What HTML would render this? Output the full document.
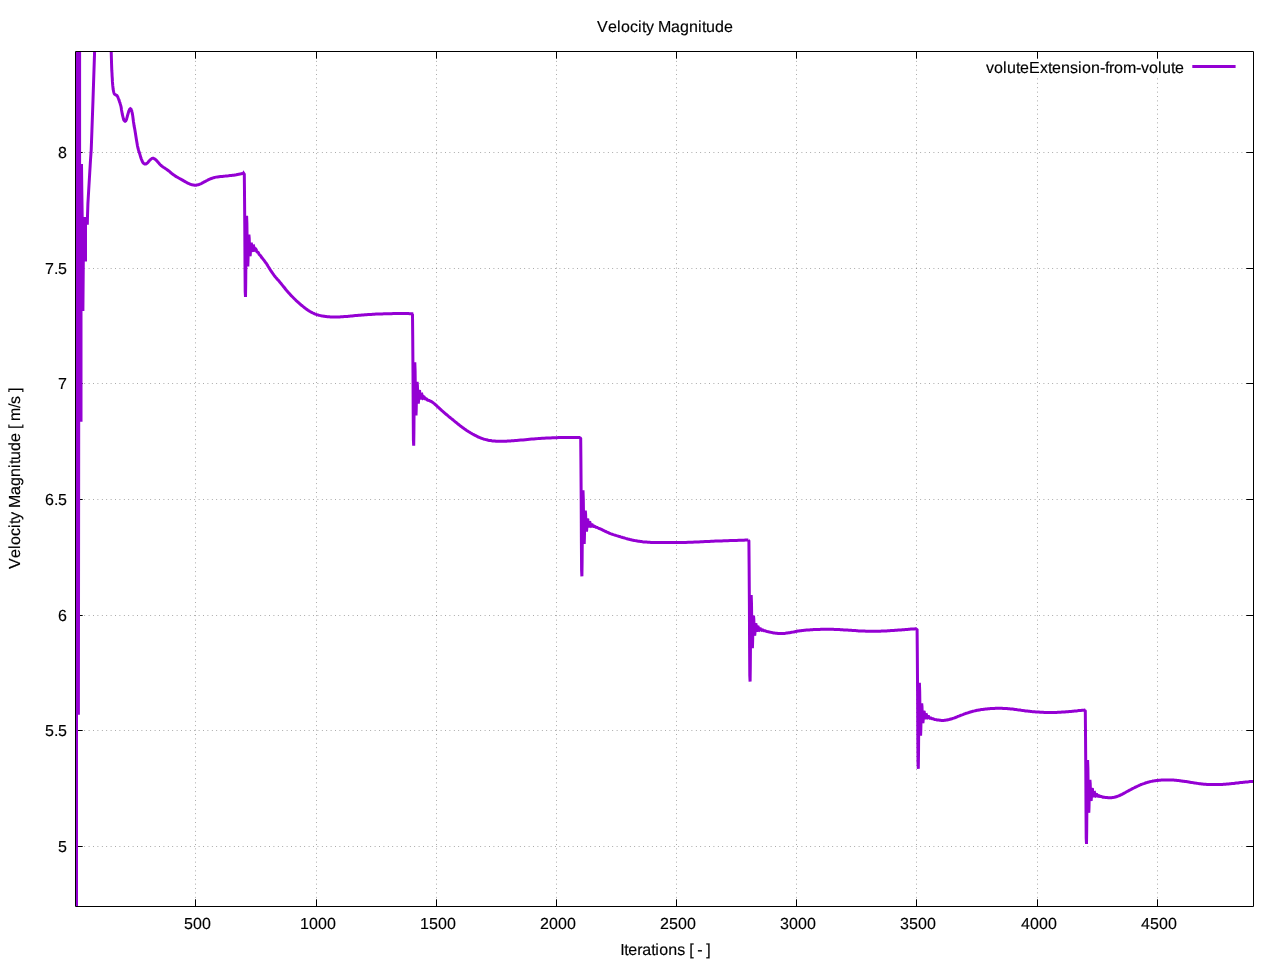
<!DOCTYPE html>
<html><head><meta charset="utf-8"><title>Velocity Magnitude</title>
<style>
html,body{margin:0;padding:0;background:#fff}
body{width:1280px;height:960px;overflow:hidden;font-family:"Liberation Sans",sans-serif;font-size:16px}
svg{display:block;will-change:transform;font-family:"Liberation Sans",sans-serif;font-kerning:none;text-rendering:geometricPrecision}
</style></head><body>
<svg width="1280" height="960" viewBox="0 0 1280 960"><path d="M195.5 906.5V51.5M316.5 906.5V51.5M436.5 906.5V51.5M556.5 906.5V51.5M676.5 906.5V51.5M796.5 906.5V51.5M916.5 906.5V51.5M1037.5 906.5V51.5M1157.5 906.5V51.5M75.5 846.5H1253.5M75.5 730.5H1253.5M75.5 615.5H1253.5M75.5 499.5H1253.5M75.5 383.5H1253.5M75.5 268.5H1253.5M75.5 152.5H1253.5" stroke="#000" stroke-width="0.42" stroke-dasharray="0.8 3.6" fill="none"/><path d="M195.5 906.5v-7.2M195.5 51.5v7.2M316.5 906.5v-7.2M316.5 51.5v7.2M436.5 906.5v-7.2M436.5 51.5v7.2M556.5 906.5v-7.2M556.5 51.5v7.2M676.5 906.5v-7.2M676.5 51.5v7.2M796.5 906.5v-7.2M796.5 51.5v7.2M916.5 906.5v-7.2M916.5 51.5v7.2M1037.5 906.5v-7.2M1037.5 51.5v7.2M1157.5 906.5v-7.2M1157.5 51.5v7.2M75.5 846.5h7.2M1253.5 846.5h-7.2M75.5 730.5h7.2M1253.5 730.5h-7.2M75.5 615.5h7.2M1253.5 615.5h-7.2M75.5 499.5h7.2M1253.5 499.5h-7.2M75.5 383.5h7.2M1253.5 383.5h-7.2M75.5 268.5h7.2M1253.5 268.5h-7.2M75.5 152.5h7.2M1253.5 152.5h-7.2" stroke="#000" stroke-width="1" fill="none"/><clipPath id="c"><rect x="76" y="52" width="1177.5" height="854.5"/></clipPath><g clip-path="url(#c)"><path d="M75.5 51.5L81.1 51.5L81.1 164.0L83.0 164.0L83.3 190.0L83.7 216.9L87.0 216.9L87.0 261.6L84.8 261.6L84.4 310.9L82.5 310.9L82.5 421.7L80.2 421.7L79.9 714.8L78.0 714.8L78.0 906.5L75.5 906.5Z" fill="#9400d3"/><path d="M87.3 224.7L87.5 216.0L87.9 203.8L88.7 190.0L89.6 175.0L90.5 160.0L91.2 150.0L91.9 131.0L93.0 100.0L94.6 51.5L94.9 41.0M111.0 41.0L111.0 42.8L111.1 45.4L111.2 48.4L111.2 51.5L111.3 54.7L111.4 58.2L111.5 61.7L111.6 65.0L111.7 67.9L111.8 70.7L112.0 73.4L112.1 76.0L112.3 78.7L112.4 81.4L112.6 83.9L112.8 86.0L113.0 87.7L113.1 89.0L113.3 90.0L113.5 91.0L113.7 91.9L113.9 92.7L114.1 93.3L114.3 93.8L114.6 94.2L114.9 94.4L115.2 94.6L115.5 94.8L115.8 95.0L116.2 95.1L116.5 95.3L116.8 95.5L117.1 95.8L117.3 96.1L117.6 96.5L117.8 97.0L118.0 97.5L118.3 98.2L118.5 98.8L118.8 99.5L119.0 100.2L119.3 100.9L119.5 101.7L119.8 102.5L120.1 103.3L120.3 104.2L120.6 105.1L120.9 106.2L121.2 107.6L121.4 109.2L121.7 110.9L122.0 112.5L122.3 114.2L122.7 115.9L123.1 117.5L123.4 118.8L123.7 119.6L123.9 120.1L124.2 120.4L124.4 120.7L124.6 121.0L124.9 121.2L125.1 121.3L125.3 121.2L125.5 121.1L125.8 120.8L126.0 120.4L126.3 119.8L126.6 119.0L126.9 117.9L127.2 116.8L127.5 115.6L127.9 114.3L128.3 112.9L128.7 111.6L129.1 110.6L129.3 110.0L129.5 109.6L129.7 109.3L129.9 109.1L130.1 108.9L130.3 108.8L130.4 108.7L130.6 108.8L130.8 108.9L131.0 109.1L131.2 109.4L131.4 110.0L131.7 110.8L131.9 111.7L132.2 112.9L132.5 114.4L132.8 116.4L133.1 118.8L133.4 121.3L133.8 123.8L134.1 125.9L134.5 127.9L134.9 130.0L135.3 132.5L135.8 135.7L136.4 139.4L137.0 143.0L137.5 146.0L138.0 148.1L138.4 149.7L138.8 151.0L139.3 152.5L139.8 154.2L140.3 155.9L140.8 157.6L141.3 159.0L141.8 160.2L142.2 161.2L142.6 162.1L143.1 162.8L143.6 163.4L144.2 163.7L144.7 164.0L145.3 164.1L145.8 164.0L146.4 163.7L146.9 163.3L147.5 162.8L148.1 162.2L148.7 161.4L149.3 160.7L150.0 160.0L150.7 159.4L151.4 158.9L152.1 158.4L152.8 158.2L153.5 158.3L154.2 158.7L154.9 159.1L155.6 159.7L156.4 160.4L157.2 161.3L158.0 162.2L158.8 163.1L159.5 163.9L160.3 164.8L161.1 165.5L161.9 166.2L162.7 166.8L163.4 167.3L164.2 167.7L165.0 168.2L165.9 168.9L166.8 169.5L167.8 170.2L168.8 170.9L169.7 171.7L170.6 172.5L171.6 173.3L172.5 174.1L173.4 174.7L174.3 175.3L175.2 175.9L176.2 176.6L177.4 177.2L178.7 178.0L180.0 178.7L181.2 179.4L182.5 180.1L183.8 180.9L185.1 181.6L186.2 182.2L187.3 182.8L188.3 183.3L189.2 183.7L190.0 184.1L190.7 184.4L191.3 184.6L191.9 184.7L192.5 184.9L193.1 185.0L193.8 185.1L194.4 185.2L195.0 185.2L195.6 185.2L196.2 185.2L196.8 185.0L197.5 184.9L198.2 184.7L199.0 184.5L199.8 184.2L200.6 183.9L201.4 183.5L202.1 183.1L202.9 182.7L203.8 182.2L204.8 181.7L205.8 181.1L207.0 180.5L208.1 179.9L209.2 179.4L210.3 178.9L211.4 178.5L212.5 178.1L213.7 177.7L214.9 177.4L216.1 177.1L217.5 176.9L219.0 176.7L220.5 176.5L222.2 176.4L223.8 176.2L225.3 176.1L227.0 175.9L228.5 175.8L230.0 175.6L231.3 175.5L232.6 175.3L233.8 175.2L235.0 175.0L236.3 174.8L237.5 174.5L238.8 174.3L240.0 174.1L241.2 173.8L242.5 173.6L243.5 173.4L243.6 173.2L244.3 174.2L244.5 192.8L244.8 229.3L245.0 266.7L245.2 291.6L245.5 297.0L245.7 284.0L245.9 260.3L246.2 235.8L246.4 219.5L246.6 215.7L246.9 223.6L247.1 238.5L247.3 253.8L247.5 264.1L247.8 266.4L248.0 261.3L248.2 251.9L248.5 242.2L248.7 235.9L248.9 234.6L249.2 238.1L249.4 244.4L249.6 250.9L249.9 255.2L250.1 256.2L250.3 254.1L250.6 250.2L250.8 246.1L251.0 243.4L251.3 242.8L251.5 244.2L251.7 246.7L252.0 249.3L252.2 251.1L252.4 251.5L252.7 250.6L252.9 249.0L253.1 247.4L253.3 246.3L253.6 246.1L253.8 246.7L254.0 247.8L254.3 249.0L254.5 249.9L254.7 250.2L255.0 250.1L255.2 249.6L255.4 249.2L255.7 249.0L255.9 249.2L256.1 249.7L256.4 250.3L256.6 251.0L256.8 251.6L257.1 252.0L257.3 252.1L257.5 252.1L257.8 252.2L258.0 252.3L258.2 252.5L258.5 252.9L258.7 253.4L258.9 253.9L259.1 254.3L259.4 254.6L259.6 254.8L259.8 255.0L260.1 255.2L260.3 255.4L260.5 255.7L260.8 256.0L261.0 256.4L261.2 256.8L261.5 257.1L261.7 257.5L261.8 257.5L262.5 258.4L263.2 259.3L263.9 260.2L264.6 261.1L265.3 262.1L266.0 263.0L266.7 264.0L267.4 265.1L268.0 266.2L268.7 267.3L269.4 268.4L270.1 269.5L270.8 270.6L271.5 271.6L272.2 272.7L272.9 273.7L273.6 274.6L274.3 275.6L275.0 276.5L275.7 277.4L276.5 278.3L277.2 279.1L278.0 279.9L278.6 280.6L279.2 281.3L279.6 281.8L279.9 282.2L280.2 282.5L280.4 282.8L280.8 283.2L281.2 283.8L281.9 284.6L282.7 285.6L283.6 286.7L284.5 287.8L285.4 289.0L286.2 290.0L287.1 291.0L287.9 291.9L288.8 292.9L289.6 293.8L290.4 294.7L291.2 295.6L292.1 296.5L292.9 297.3L293.8 298.2L294.6 299.0L295.4 299.8L296.2 300.6L297.1 301.4L297.9 302.1L298.8 302.9L299.6 303.6L300.4 304.3L301.2 305.0L302.1 305.7L302.9 306.4L303.8 307.1L304.6 307.8L305.4 308.4L306.2 309.1L307.1 309.6L307.9 310.2L308.8 310.7L309.6 311.3L310.4 311.7L311.2 312.2L312.1 312.6L312.9 313.0L313.8 313.4L314.6 313.8L315.4 314.1L316.2 314.4L317.1 314.7L317.9 314.9L318.8 315.2L319.6 315.4L320.4 315.6L321.2 315.8L322.1 315.9L322.9 316.1L323.7 316.2L324.5 316.3L325.3 316.5L326.2 316.6L327.2 316.7L328.2 316.8L329.3 316.8L330.4 316.9L331.4 317.0L332.5 317.0L333.5 317.0L334.6 317.0L335.6 317.0L336.7 317.0L337.7 316.9L338.8 316.9L339.8 316.9L340.9 316.8L342.0 316.7L343.1 316.7L344.1 316.6L345.0 316.6L345.8 316.5L346.4 316.5L347.0 316.4L347.6 316.4L348.4 316.3L349.4 316.2L350.7 316.1L352.1 316.0L353.8 315.8L355.4 315.6L357.1 315.5L358.8 315.3L360.3 315.2L361.9 315.0L363.4 314.9L365.0 314.8L366.5 314.7L368.1 314.6L369.7 314.5L371.2 314.4L372.8 314.3L374.4 314.2L375.9 314.1L377.5 314.1L379.1 314.0L380.6 313.9L382.2 313.9L383.8 313.8L385.3 313.8L386.9 313.8L388.5 313.7L390.0 313.7L391.6 313.7L393.1 313.6L394.7 313.6L396.2 313.6L397.8 313.6L399.5 313.6L401.1 313.6L402.7 313.6L404.2 313.6L405.6 313.6L407.0 313.6L408.3 313.6L409.6 313.7L410.8 313.7L411.8 313.7L411.8 313.8L412.5 314.8L412.7 334.8L413.0 373.7L413.2 413.5L413.4 439.9L413.7 445.7L413.9 432.4L414.1 407.8L414.4 382.6L414.6 365.8L414.8 362.2L415.1 370.7L415.3 386.3L415.5 402.4L415.7 413.0L416.0 415.4L416.2 410.1L416.4 400.2L416.7 390.0L416.9 383.3L417.1 381.8L417.4 385.3L417.6 391.6L417.8 398.1L418.1 402.5L418.3 403.5L418.5 401.4L418.8 397.4L419.0 393.4L419.2 390.7L419.5 390.2L419.7 391.6L419.9 394.2L420.2 396.9L420.4 398.7L420.6 399.2L420.9 398.4L421.1 396.9L421.3 395.3L421.5 394.3L421.8 394.2L422.0 394.9L422.2 396.1L422.5 397.2L422.7 398.1L422.9 398.4L423.2 398.2L423.4 397.6L423.6 397.1L423.9 396.8L424.1 396.9L424.3 397.3L424.6 397.8L424.8 398.4L425.0 398.8L425.3 399.0L425.5 399.0L425.7 398.9L426.0 398.8L426.2 398.8L426.4 398.9L426.7 399.1L426.9 399.4L427.1 399.7L427.3 400.0L427.6 400.1L427.8 400.2L428.0 400.2L428.3 400.2L428.5 400.2L428.7 400.3L429.0 400.4L429.2 400.6L429.4 400.8L429.7 400.9L429.9 401.0L430.3 401.0L430.9 401.3L431.5 401.6L432.1 402.0L432.7 402.4L433.3 402.9L433.9 403.4L434.6 403.9L435.2 404.5L436.0 405.1L436.8 405.9L437.5 406.6L438.4 407.4L439.2 408.1L440.0 408.9L440.8 409.6L441.6 410.4L442.5 411.1L443.3 411.8L444.2 412.6L445.0 413.3L445.8 414.0L446.7 414.7L447.5 415.4L448.3 416.1L449.2 416.8L450.0 417.5L450.8 418.2L451.7 418.9L452.5 419.5L453.3 420.2L454.2 420.9L455.0 421.6L455.8 422.2L456.7 422.9L457.5 423.6L458.3 424.3L459.2 424.9L460.0 425.6L460.8 426.2L461.7 426.9L462.5 427.5L463.3 428.1L464.2 428.7L465.0 429.2L465.8 429.8L466.7 430.4L467.5 430.9L468.3 431.5L469.2 432.0L470.0 432.5L470.8 433.0L471.7 433.5L472.5 434.0L473.3 434.4L474.2 434.9L475.0 435.3L475.8 435.7L476.7 436.2L477.5 436.6L478.3 437.0L479.2 437.3L480.0 437.7L480.8 438.0L481.7 438.3L482.5 438.6L483.3 438.9L484.2 439.2L485.0 439.4L485.8 439.6L486.7 439.8L487.5 440.0L488.3 440.2L489.2 440.4L490.0 440.5L490.8 440.6L491.7 440.8L492.5 440.9L493.3 440.9L494.2 441.0L495.0 441.1L495.8 441.2L496.7 441.2L497.5 441.2L498.3 441.3L499.2 441.3L500.0 441.3L500.8 441.3L501.7 441.3L502.5 441.3L503.3 441.3L504.2 441.3L505.0 441.2L505.8 441.2L506.7 441.2L507.5 441.1L508.3 441.0L509.2 441.0L510.0 440.9L510.7 440.9L511.4 440.8L512.0 440.8L512.8 440.8L513.7 440.7L515.0 440.6L516.6 440.5L518.6 440.3L520.8 440.1L523.1 439.9L525.3 439.7L527.5 439.5L529.6 439.3L531.7 439.1L533.8 438.9L535.8 438.7L537.9 438.6L540.0 438.4L542.1 438.3L544.2 438.2L546.2 438.0L548.3 438.0L550.4 437.9L552.5 437.8L554.6 437.7L556.7 437.7L558.8 437.6L560.8 437.6L562.9 437.5L565.0 437.5L567.2 437.5L569.5 437.4L571.8 437.4L574.0 437.4L576.0 437.4L577.5 437.4L578.6 437.4L579.4 437.4L579.9 437.4L580.2 437.5L580.5 437.5L580.0 437.5L580.7 438.5L580.9 460.1L581.2 501.2L581.4 543.0L581.6 570.5L581.9 576.3L582.1 562.3L582.3 536.8L582.6 510.9L582.8 493.8L583.0 490.2L583.3 498.9L583.5 514.8L583.7 531.0L583.9 541.6L584.2 543.9L584.4 538.5L584.6 528.6L584.9 518.6L585.1 512.1L585.3 510.7L585.6 514.1L585.8 520.2L586.0 526.5L586.3 530.6L586.5 531.5L586.7 529.5L587.0 525.7L587.2 521.8L587.4 519.3L587.7 518.8L587.9 520.2L588.1 522.6L588.4 525.1L588.6 526.7L588.8 527.1L589.1 526.4L589.3 525.0L589.5 523.6L589.7 522.7L590.0 522.6L590.2 523.3L590.4 524.3L590.7 525.3L590.9 526.0L591.1 526.2L591.4 526.0L591.6 525.6L591.8 525.1L592.1 524.8L592.3 524.8L592.5 525.1L592.8 525.5L593.0 526.0L593.2 526.3L593.5 526.5L593.7 526.5L593.9 526.3L594.2 526.2L594.4 526.1L594.6 526.2L594.9 526.4L595.1 526.6L595.3 526.9L595.5 527.0L595.8 527.2L596.0 527.2L596.2 527.2L596.5 527.2L596.7 527.3L596.9 527.4L597.2 527.5L597.4 527.6L597.6 527.8L597.9 527.9L598.1 528.0L599.2 528.5L600.3 528.9L601.4 529.4L602.4 529.9L603.2 530.3L604.0 530.7L604.7 531.0L605.2 531.3L605.8 531.5L606.4 531.8L607.0 532.1L607.7 532.4L608.3 532.7L609.0 533.0L609.7 533.3L610.4 533.6L611.2 533.9L612.2 534.2L613.2 534.6L614.2 534.9L615.3 535.2L616.4 535.6L617.5 535.9L618.5 536.2L619.6 536.5L620.6 536.9L621.7 537.2L622.7 537.5L623.8 537.8L624.8 538.1L625.8 538.4L626.9 538.7L627.9 539.0L629.0 539.2L630.0 539.5L631.0 539.7L632.1 540.0L633.1 540.2L634.2 540.4L635.2 540.6L636.2 540.8L637.3 541.0L638.3 541.2L639.4 541.3L640.4 541.5L641.5 541.6L642.5 541.8L643.5 541.9L644.6 542.0L645.6 542.0L646.7 542.1L647.7 542.2L648.8 542.2L649.8 542.3L650.8 542.4L651.9 542.4L652.9 542.4L654.0 542.5L655.0 542.5L656.0 542.5L657.1 542.5L658.1 542.6L659.2 542.6L660.2 542.6L661.2 542.6L662.3 542.6L663.3 542.6L664.4 542.6L665.4 542.6L666.5 542.6L667.5 542.6L668.5 542.6L669.6 542.6L670.6 542.6L671.7 542.6L672.7 542.6L673.8 542.6L674.7 542.5L675.6 542.5L676.5 542.5L677.5 542.5L678.6 542.5L680.0 542.5L681.7 542.4L683.7 542.4L685.9 542.4L688.1 542.3L690.3 542.3L692.5 542.2L694.6 542.1L696.7 542.0L698.8 541.9L700.8 541.8L702.9 541.7L705.0 541.6L707.1 541.5L709.2 541.4L711.2 541.3L713.3 541.2L715.4 541.1L717.5 541.1L719.6 541.0L721.7 540.9L723.8 540.8L725.8 540.7L727.9 540.7L730.0 540.6L732.2 540.5L734.4 540.5L736.6 540.4L738.8 540.3L740.8 540.2L742.5 540.2L744.0 540.2L745.3 540.1L746.5 540.1L747.5 540.1L748.3 540.1L748.2 540.1L748.9 541.1L749.1 563.5L749.4 605.6L749.6 648.1L749.8 675.8L750.1 681.6L750.3 667.3L750.5 641.5L750.8 615.5L751.0 598.5L751.2 595.0L751.5 603.7L751.7 619.5L751.9 635.5L752.1 645.9L752.4 648.1L752.6 642.7L752.8 633.1L753.1 623.3L753.3 616.9L753.5 615.6L753.8 618.9L754.0 624.9L754.2 630.9L754.5 634.8L754.7 635.6L754.9 633.7L755.2 630.0L755.4 626.4L755.6 624.0L755.9 623.6L756.1 624.9L756.3 627.1L756.6 629.4L756.8 630.9L757.0 631.3L757.3 630.6L757.5 629.2L757.7 627.9L757.9 627.1L758.2 627.0L758.4 627.5L758.6 628.4L758.9 629.3L759.1 630.0L759.3 630.2L759.6 629.9L759.8 629.5L760.0 629.1L760.3 628.8L760.5 628.8L760.7 629.1L761.0 629.5L761.2 629.9L761.4 630.1L761.7 630.3L761.9 630.2L762.1 630.1L762.4 630.0L762.6 629.9L762.8 630.0L763.1 630.1L763.3 630.3L763.5 630.5L763.7 630.7L764.0 630.8L764.2 630.8L764.4 630.8L764.7 630.8L764.9 630.8L765.1 630.8L765.4 630.9L765.6 631.0L765.8 631.1L766.1 631.2L766.3 631.3L767.2 631.5L768.3 631.7L769.4 632.0L770.4 632.2L771.2 632.4L772.0 632.6L772.6 632.7L773.1 632.8L773.7 632.9L774.3 633.0L775.0 633.1L775.9 633.2L776.9 633.3L778.0 633.4L779.1 633.5L780.2 633.5L781.2 633.6L782.3 633.5L783.3 633.5L784.4 633.4L785.4 633.3L786.5 633.1L787.5 633.0L788.5 632.8L789.6 632.7L790.6 632.5L791.7 632.3L792.7 632.1L793.8 631.9L794.8 631.7L795.8 631.5L796.9 631.3L797.9 631.1L799.0 631.0L800.0 630.8L801.0 630.7L802.1 630.5L803.1 630.4L804.2 630.3L805.2 630.2L806.2 630.1L807.3 630.0L808.3 629.9L809.4 629.9L810.4 629.8L811.5 629.8L812.5 629.7L813.5 629.6L814.6 629.6L815.6 629.5L816.7 629.5L817.7 629.4L818.8 629.4L819.8 629.4L820.8 629.3L821.9 629.3L822.9 629.3L824.0 629.3L825.0 629.2L826.0 629.2L827.1 629.2L828.1 629.2L829.2 629.2L830.2 629.2L831.2 629.2L832.3 629.3L833.3 629.3L834.4 629.4L835.4 629.4L836.5 629.4L837.5 629.5L838.5 629.6L839.5 629.6L840.5 629.7L841.6 629.8L842.6 629.8L843.8 629.9L844.9 630.0L846.2 630.0L847.5 630.1L848.8 630.2L850.1 630.2L851.2 630.3L852.4 630.4L853.4 630.5L854.5 630.6L855.5 630.6L856.5 630.7L857.5 630.8L858.5 630.9L859.6 630.9L860.6 631.0L861.7 631.0L862.7 631.1L863.8 631.1L864.8 631.1L865.8 631.2L866.9 631.2L867.9 631.2L869.0 631.2L870.0 631.2L871.0 631.3L872.1 631.3L873.1 631.3L874.2 631.3L875.2 631.3L876.2 631.2L877.3 631.2L878.3 631.2L879.4 631.2L880.4 631.2L881.5 631.1L882.5 631.1L883.5 631.1L884.6 631.0L885.6 630.9L886.7 630.9L887.7 630.8L888.8 630.8L889.8 630.7L890.8 630.6L891.9 630.5L892.9 630.5L894.0 630.4L895.0 630.3L896.0 630.2L897.1 630.2L898.1 630.1L899.2 630.0L900.2 630.0L901.2 629.9L902.3 629.8L903.3 629.7L904.4 629.7L905.4 629.6L906.5 629.5L907.5 629.4L908.6 629.3L909.7 629.2L910.8 629.1L911.9 629.0L912.9 629.0L913.8 628.9L914.5 628.9L915.2 628.8L915.8 628.8L916.3 628.8L916.8 628.8L916.4 628.8L917.1 629.8L917.3 651.8L917.6 693.5L917.8 735.5L918.0 763.0L918.3 768.8L918.5 754.6L918.7 729.1L919.0 703.2L919.2 686.4L919.4 682.8L919.7 691.5L919.9 707.2L920.1 723.1L920.3 733.4L920.6 735.6L920.8 730.3L921.0 720.7L921.3 710.9L921.5 704.6L921.7 703.3L922.0 706.6L922.2 712.5L922.4 718.5L922.7 722.4L922.9 723.2L923.1 721.2L923.4 717.6L923.6 714.0L923.8 711.6L924.1 711.1L924.3 712.4L924.5 714.6L924.8 716.9L925.0 718.4L925.2 718.8L925.5 718.1L925.7 716.8L925.9 715.5L926.1 714.7L926.4 714.6L926.6 715.2L926.8 716.1L927.1 717.0L927.3 717.7L927.5 717.9L927.8 717.7L928.0 717.3L928.2 716.8L928.5 716.6L928.7 716.6L928.9 716.9L929.2 717.3L929.4 717.7L929.6 718.0L929.9 718.2L930.1 718.1L930.3 718.0L930.6 717.9L930.8 717.9L931.0 717.9L931.3 718.1L931.5 718.3L931.7 718.5L931.9 718.7L932.2 718.8L932.4 718.8L932.6 718.8L932.9 718.8L933.1 718.8L933.3 718.9L933.6 719.0L933.8 719.1L934.0 719.2L934.3 719.3L934.5 719.4L934.8 719.4L935.6 719.6L936.4 719.7L937.2 719.9L938.0 720.0L938.8 720.1L939.7 720.2L940.5 720.3L941.3 720.4L942.2 720.4L943.0 720.4L943.8 720.4L944.6 720.3L945.5 720.2L946.3 720.1L947.1 720.0L948.0 719.8L948.9 719.6L949.9 719.3L950.9 719.0L951.9 718.7L952.8 718.4L953.8 718.1L954.6 717.8L955.5 717.5L956.3 717.1L957.1 716.8L957.9 716.4L958.8 716.1L959.6 715.8L960.4 715.5L961.2 715.2L962.1 714.9L962.9 714.6L963.8 714.2L964.6 713.9L965.4 713.6L966.2 713.3L967.1 713.1L967.9 712.8L968.8 712.5L969.6 712.2L970.4 712.0L971.2 711.8L972.1 711.5L972.9 711.3L973.8 711.1L974.6 710.9L975.4 710.7L976.2 710.5L977.1 710.3L977.9 710.2L978.8 710.0L979.6 709.9L980.4 709.7L981.2 709.6L982.1 709.5L982.9 709.4L983.8 709.2L984.6 709.2L985.4 709.1L986.2 709.0L987.1 708.9L987.9 708.8L988.8 708.8L989.6 708.7L990.4 708.6L991.2 708.6L992.1 708.5L992.9 708.4L993.8 708.4L994.6 708.4L995.4 708.3L996.2 708.3L997.1 708.3L997.9 708.3L998.8 708.3L999.6 708.3L1000.4 708.3L1001.2 708.3L1002.1 708.3L1002.9 708.4L1003.8 708.4L1004.6 708.4L1005.4 708.5L1006.2 708.6L1007.1 708.6L1007.9 708.7L1008.8 708.8L1009.6 708.8L1010.3 708.9L1011.1 709.0L1011.9 709.0L1012.8 709.1L1013.8 709.2L1014.9 709.4L1016.1 709.6L1017.4 709.8L1018.8 709.9L1020.0 710.1L1021.2 710.3L1022.4 710.4L1023.4 710.6L1024.5 710.7L1025.5 710.9L1026.5 711.0L1027.5 711.1L1028.5 711.2L1029.6 711.3L1030.6 711.4L1031.7 711.6L1032.7 711.7L1033.8 711.8L1034.8 711.8L1035.8 711.9L1036.9 712.0L1037.9 712.1L1039.0 712.1L1040.0 712.2L1041.0 712.2L1042.1 712.3L1043.1 712.3L1044.2 712.4L1045.2 712.4L1046.2 712.4L1047.3 712.4L1048.3 712.5L1049.4 712.5L1050.4 712.5L1051.5 712.5L1052.5 712.5L1053.5 712.5L1054.6 712.5L1055.6 712.4L1056.7 712.4L1057.7 712.3L1058.8 712.3L1059.8 712.2L1060.8 712.2L1061.9 712.1L1062.9 712.0L1064.0 712.0L1065.0 711.9L1066.0 711.8L1067.1 711.7L1068.1 711.7L1069.2 711.6L1070.2 711.5L1071.2 711.4L1072.3 711.3L1073.3 711.2L1074.4 711.1L1075.4 711.0L1076.5 710.9L1077.5 710.8L1078.6 710.6L1079.8 710.5L1080.9 710.4L1082.0 710.3L1083.0 710.3L1083.8 710.2L1084.3 710.2L1084.7 710.1L1084.9 710.1L1085.1 710.1L1085.2 710.1L1084.6 710.1L1085.3 711.1L1085.5 731.7L1085.8 771.3L1086.0 811.6L1086.2 838.2L1086.5 844.0L1086.7 830.4L1086.9 805.6L1087.2 780.4L1087.4 763.7L1087.6 760.1L1087.9 768.6L1088.1 784.2L1088.3 800.1L1088.5 810.5L1088.8 812.8L1089.0 807.5L1089.2 797.8L1089.5 787.9L1089.7 781.4L1089.9 780.0L1090.2 783.4L1090.4 789.5L1090.6 795.8L1090.9 800.0L1091.1 800.9L1091.3 798.9L1091.6 795.1L1091.8 791.3L1092.0 788.8L1092.3 788.3L1092.5 789.7L1092.7 792.2L1093.0 794.8L1093.2 796.5L1093.4 797.0L1093.7 796.3L1093.9 794.9L1094.1 793.5L1094.3 792.6L1094.6 792.5L1094.8 793.1L1095.0 794.1L1095.3 795.2L1095.5 795.9L1095.7 796.1L1096.0 795.9L1096.2 795.4L1096.4 794.8L1096.7 794.5L1096.9 794.5L1097.1 794.8L1097.4 795.2L1097.6 795.7L1097.8 796.0L1098.1 796.2L1098.3 796.1L1098.5 796.0L1098.8 795.8L1099.0 795.7L1099.2 795.8L1099.5 795.9L1099.7 796.1L1099.9 796.4L1100.1 796.5L1100.4 796.6L1100.6 796.6L1100.8 796.6L1101.1 796.6L1101.3 796.6L1101.5 796.6L1101.8 796.7L1102.0 796.8L1102.2 796.9L1102.5 797.0L1102.7 797.1L1102.8 797.0L1103.7 797.2L1104.5 797.3L1105.3 797.4L1106.0 797.5L1106.7 797.6L1107.3 797.6L1107.9 797.7L1108.5 797.7L1109.1 797.7L1109.8 797.7L1110.4 797.7L1111.0 797.7L1111.7 797.7L1112.3 797.6L1113.0 797.5L1113.8 797.4L1114.5 797.2L1115.3 797.0L1116.2 796.8L1117.0 796.5L1117.9 796.2L1118.8 795.9L1119.6 795.5L1120.4 795.2L1121.2 794.7L1122.1 794.3L1122.9 793.8L1123.8 793.4L1124.6 792.9L1125.4 792.5L1126.2 792.0L1127.1 791.5L1127.9 791.1L1128.8 790.6L1129.6 790.2L1130.4 789.7L1131.2 789.3L1132.1 788.8L1132.9 788.4L1133.8 788.0L1134.6 787.6L1135.4 787.2L1136.2 786.8L1137.1 786.4L1137.9 786.0L1138.8 785.6L1139.6 785.2L1140.4 784.9L1141.2 784.5L1142.1 784.2L1142.9 783.9L1143.8 783.6L1144.6 783.3L1145.4 783.0L1146.2 782.7L1147.1 782.5L1147.9 782.2L1148.8 782.0L1149.6 781.8L1150.4 781.6L1151.2 781.4L1152.1 781.2L1152.9 781.0L1153.8 780.9L1154.6 780.8L1155.4 780.7L1156.2 780.5L1157.1 780.5L1157.9 780.4L1158.8 780.3L1159.6 780.2L1160.4 780.2L1161.2 780.1L1162.1 780.1L1162.9 780.0L1163.8 780.0L1164.6 780.0L1165.4 779.9L1166.2 779.9L1167.1 779.9L1167.9 779.9L1168.8 779.9L1169.6 779.9L1170.4 779.9L1171.2 780.0L1172.1 780.0L1172.9 780.0L1173.8 780.1L1174.6 780.2L1175.4 780.2L1176.2 780.3L1177.1 780.4L1177.9 780.5L1178.8 780.6L1179.6 780.7L1180.3 780.8L1181.1 780.9L1181.9 781.0L1182.8 781.2L1183.8 781.3L1184.9 781.5L1186.1 781.6L1187.4 781.8L1188.8 782.0L1190.0 782.2L1191.2 782.4L1192.4 782.6L1193.4 782.7L1194.5 782.9L1195.5 783.1L1196.5 783.2L1197.5 783.4L1198.5 783.6L1199.6 783.7L1200.6 783.8L1201.7 784.0L1202.7 784.1L1203.8 784.2L1204.8 784.3L1205.8 784.3L1206.9 784.4L1207.9 784.4L1209.0 784.5L1210.0 784.5L1211.0 784.5L1212.1 784.5L1213.1 784.6L1214.2 784.6L1215.2 784.6L1216.2 784.6L1217.3 784.5L1218.3 784.5L1219.4 784.5L1220.4 784.5L1221.5 784.4L1222.5 784.4L1223.5 784.3L1224.6 784.3L1225.6 784.2L1226.7 784.1L1227.7 784.0L1228.8 783.9L1229.8 783.8L1230.8 783.7L1231.9 783.6L1232.9 783.5L1234.0 783.4L1235.0 783.2L1236.0 783.1L1237.1 783.0L1238.1 782.9L1239.2 782.7L1240.2 782.6L1241.2 782.5L1242.3 782.4L1243.3 782.3L1244.4 782.2L1245.4 782.1L1246.4 782.0L1247.5 781.9L1248.6 781.8L1249.9 781.6L1251.1 781.5L1252.3 781.4L1253.3 781.3L1254.0 781.2" fill="none" stroke="#9400d3" stroke-width="3" stroke-linejoin="miter" stroke-miterlimit="2" stroke-linecap="butt"/></g><rect x="982" y="59" width="260" height="17" fill="#fff"/><path d="M1192.3 66.5H1235.6" stroke="#9400d3" stroke-width="3"/><path d="M75.5 51.5H1253.5V906.5H75.5Z" stroke="#000" stroke-width="1" fill="none"/><g font-family="Liberation Sans, sans-serif" font-size="16" fill="#000" stroke="#000" stroke-width="0.15"><text x="597.0 608.0 617.0 621.0 630.0 638.0 642.0 646.0 654.0 658.0 671.0 680.0 689.0 698.0 702.0 706.0 715.0 724.0" y="32">Velocity Magnitude</text><text x="620.2 624.2 628.2 637.2 642.2 651.2 655.2 659.2 668.2 677.2 685.2 689.2 693.2 697.2 702.2 706.2" y="955">Iterations [ - ]</text><text transform="translate(20 478.5) rotate(-90)" x="-90.5 -79.5 -70.5 -66.5 -57.5 -49.5 -45.5 -41.5 -33.5 -29.5 -16.5 -7.5 1.5 10.5 14.5 18.5 27.5 36.5 45.5 49.5 53.5 57.5 70.5 74.5 82.5 86.5" y="0">Velocity Magnitude [ m/s ]</text><text x="986.0 994.0 1003.0 1007.0 1016.0 1020.0 1029.0 1040.0 1048.0 1052.0 1061.0 1070.0 1078.0 1082.0 1091.0 1100.0 1105.0 1109.0 1114.0 1123.0 1136.0 1141.0 1149.0 1158.0 1162.0 1171.0 1175.0" y="73">voluteExtension-from-volute</text><text x="184.0 193.0 202.0" y="929">500</text><text x="300.0 309.0 318.0 327.0" y="929">1000</text><text x="420.0 429.0 438.0 447.0" y="929">1500</text><text x="540.0 549.0 558.0 567.0" y="929">2000</text><text x="660.0 669.0 678.0 687.0" y="929">2500</text><text x="780.0 789.0 798.0 807.0" y="929">3000</text><text x="900.0 909.0 918.0 927.0" y="929">3500</text><text x="1021.0 1030.0 1039.0 1048.0" y="929">4000</text><text x="1141.0 1150.0 1159.0 1168.0" y="929">4500</text><text x="58.0" y="852.0">5</text><text x="45.0 54.0 58.0" y="736.0">5.5</text><text x="58.0" y="621.0">6</text><text x="45.0 54.0 58.0" y="505.0">6.5</text><text x="58.0" y="389.0">7</text><text x="45.0 54.0 58.0" y="274.0">7.5</text><text x="58.0" y="158.0">8</text></g></svg>
</body></html>
